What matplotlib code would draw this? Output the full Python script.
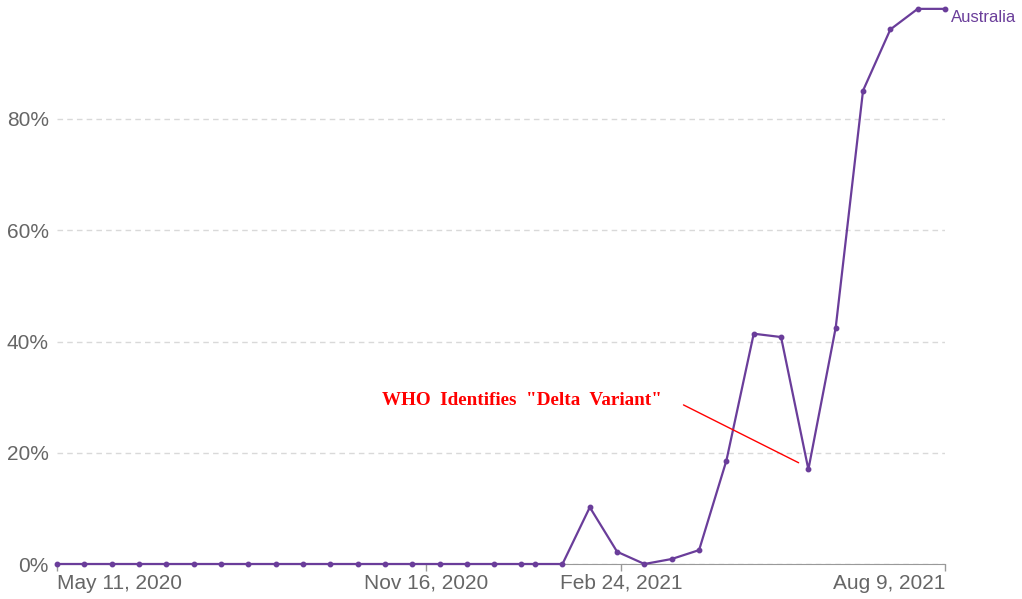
import matplotlib
matplotlib.use("Agg")
import matplotlib.pyplot as plt
import numpy as np

plt.rcParams["font.family"] = ["Liberation Sans", "DejaVu Sans"]

# biweekly share of sequences (Australia)
dates = ["2020-05-11", "2020-05-25", "2020-06-08", "2020-06-22", "2020-07-06",
         "2020-07-20", "2020-08-03", "2020-08-17", "2020-08-31", "2020-09-14",
         "2020-09-28", "2020-10-12", "2020-10-26", "2020-11-09", "2020-11-23",
         "2020-12-07", "2020-12-21", "2021-01-04", "2021-01-11", "2021-01-25",
         "2021-02-08", "2021-02-22", "2021-03-08", "2021-03-22", "2021-04-05",
         "2021-04-19", "2021-05-03", "2021-05-17", "2021-05-31", "2021-06-14",
         "2021-06-28", "2021-07-12", "2021-07-26", "2021-08-09"]
share = [0, 0, 0, 0, 0, 0, 0, 0, 0, 0,
         0, 0, 0, 0, 0, 0, 0, 0, 0, 0,
         10.2, 2.2, 0, 0.9, 2.5, 18.6, 41.4, 40.8, 17.0, 42.5,
         85.1, 96.1, 99.8, 99.8]
tick_dates = ["2020-05-11", "2020-11-16", "2021-02-24", "2021-08-09"]
tick_labels = ["May 11, 2020", "Nov 16, 2020", "Feb 24, 2021", "Aug 9, 2021"]
y_ticks = [0, 20, 40, 60, 80]
series_name = "Australia"
note = 'WHO  Identifies  "Delta  Variant"'

purple = "#6a3d9a"
grey = "#666666"

x = np.array(dates, dtype="datetime64[D]")
xt = np.array(tick_dates, dtype="datetime64[D]")

fig = plt.figure(figsize=(10.22, 5.99), dpi=100)
ax = fig.add_axes([57 / 1022, 1 - 564 / 599, (945 - 57) / 1022, (564 - 7.75) / 599])

ax.plot(x, share, color=purple, lw=1.6, marker="o", ms=3.2, zorder=3, clip_on=False)
ax.set_xlim(x[0], x[-1])
ax.set_ylim(0, 100)

ax.set_yticks(y_ticks)
ax.set_yticklabels([f"{v}%" for v in y_ticks])
ax.yaxis.grid(True, ls=(0, (4, 3)), color="#d9d9d9", lw=1)
ax.set_axisbelow(True)
ax.tick_params(axis="y", length=0, pad=6, labelsize=15, labelcolor=grey)

ax.set_xticks(xt)
ax.set_xticklabels(tick_labels)
ax.tick_params(axis="x", length=5, width=1, color="#999999", pad=2,
               labelsize=15, labelcolor=grey)
labels = ax.get_xticklabels()
labels[0].set_ha("left")
labels[-1].set_ha("right")

for s in ["top", "right", "left"]:
    ax.spines[s].set_visible(False)
ax.spines["bottom"].set_color("#999999")

ax.text(x[-1] + np.timedelta64(3, "D"), share[-1] - 1.5, series_name, color=purple,
        fontsize=12, va="center", ha="left")

# callout for the WHO naming of Delta
ax.text(np.datetime64("2021-01-04"), 29.4, note, color="red", fontsize=13.8,
        fontweight="bold", family="Liberation Serif", ha="center", va="center")
ax.annotate("", xy=(np.datetime64("2021-05-26"), 18.2),
            xytext=(np.datetime64("2021-03-28"), 28.6),
            arrowprops=dict(arrowstyle="-", color="red", lw=1,
                            shrinkA=0, shrinkB=0))

fig.savefig("out.png", dpi=100)
